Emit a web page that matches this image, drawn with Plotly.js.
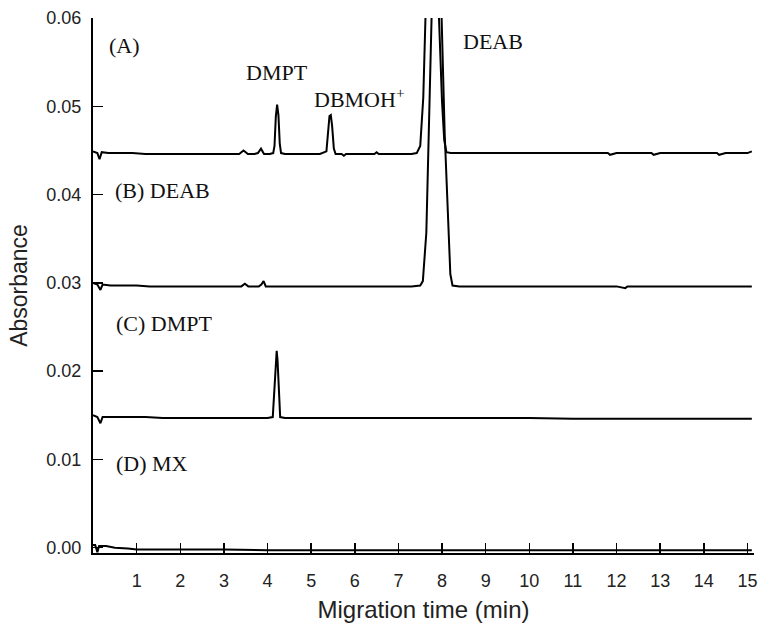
<!DOCTYPE html>
<html>
<head>
<meta charset="utf-8">
<script src="https://cdn.plot.ly/plotly-3.0.1.min.js"></script>
<style>html,body{margin:0;padding:0;background:#fff;}#chart{width:764px;height:625px;}</style>
</head>
<body>
<div id="chart"></div>
<script>
// Trace (A): mixture sample
const timeA = [0.00,0.05,0.10,0.15,0.20,0.35,0.60,0.90,1.20,1.50,1.80,2.00,2.30,2.60,2.90,3.20,3.35,3.45,3.55,3.70,3.78,3.85,3.92,4.05,4.13,4.16,4.19,4.22,4.25,4.28,4.31,4.40,4.60,4.90,5.20,5.35,5.39,5.42,5.45,5.48,5.52,5.56,5.70,5.75,5.80,6.00,6.20,6.45,6.50,6.55,6.80,7.10,7.30,7.42,7.50,7.57,7.62,7.78,7.93,8.00,8.05,8.10,8.20,8.50,9.00,9.50,10.00,10.50,11.00,11.50,11.80,11.85,12.00,12.30,12.50,12.80,12.85,13.00,13.30,13.50,13.80,14.00,14.30,14.35,14.50,14.80,15.00,15.10];
const absA  = [0.0449,0.0448,0.0447,0.0440,0.0448,0.0447,0.0447,0.0447,0.0446,0.0446,0.0446,0.0446,0.0446,0.0446,0.0446,0.0446,0.0446,0.0450,0.0446,0.0446,0.0447,0.0452,0.0446,0.0446,0.0447,0.0455,0.0488,0.0502,0.0490,0.0458,0.0447,0.0446,0.0446,0.0446,0.0446,0.0449,0.0478,0.0489,0.0490,0.0478,0.0452,0.0446,0.0446,0.0444,0.0446,0.0446,0.0446,0.0446,0.0448,0.0446,0.0446,0.0446,0.0446,0.0447,0.0455,0.0510,0.0600,0.2000,0.0600,0.0505,0.0462,0.0448,0.0447,0.0447,0.0447,0.0447,0.0447,0.0447,0.0447,0.0447,0.0447,0.0445,0.0447,0.0447,0.0447,0.0447,0.0445,0.0447,0.0447,0.0447,0.0447,0.0447,0.0447,0.0445,0.0447,0.0447,0.0447,0.0449];

// Trace (B): DEAB
const timeB = [0.00,0.05,0.10,0.17,0.22,0.40,0.70,1.00,1.30,1.60,2.00,2.40,2.80,3.20,3.40,3.48,3.56,3.80,3.86,3.91,3.96,4.30,4.60,5.00,5.50,5.80,6.20,6.60,7.00,7.30,7.50,7.56,7.64,7.70,7.76,7.88,7.99,8.06,8.14,8.19,8.24,8.40,9.00,9.50,10.00,10.50,11.00,11.50,12.00,12.20,12.25,12.50,13.00,14.00,15.10];
const absB  = [0.0300,0.0299,0.0298,0.0292,0.0298,0.0297,0.0297,0.0297,0.0296,0.0296,0.0296,0.0296,0.0296,0.0296,0.0296,0.0299,0.0296,0.0296,0.0298,0.0302,0.0296,0.0296,0.0296,0.0296,0.0296,0.0296,0.0296,0.0296,0.0296,0.0296,0.0297,0.0302,0.0357,0.0470,0.0600,0.2000,0.0600,0.0470,0.0357,0.0310,0.0297,0.0296,0.0296,0.0296,0.0296,0.0296,0.0296,0.0296,0.0296,0.0294,0.0296,0.0296,0.0296,0.0296,0.0296];

// Trace (C): DMPT
const timeC = [0.00,0.05,0.10,0.17,0.22,0.40,0.80,1.20,1.60,2.00,2.40,2.80,3.20,3.60,4.00,4.12,4.16,4.19,4.21,4.23,4.26,4.29,4.40,5.00,5.50,6.00,7.00,8.00,9.00,10.00,11.00,12.00,13.00,14.00,15.10];
const absC  = [0.0150,0.0149,0.0148,0.0141,0.0148,0.0148,0.0148,0.0148,0.0147,0.0147,0.0147,0.0147,0.0147,0.0147,0.0147,0.0148,0.0180,0.0215,0.0223,0.0212,0.0170,0.0148,0.0147,0.0147,0.0147,0.0147,0.0147,0.0147,0.0147,0.0147,0.0146,0.0146,0.0146,0.0146,0.0146];

// Trace (D): MX
const timeD = [0.00,0.05,0.10,0.14,0.30,0.50,0.80,1.00,1.50,2.00,3.00,4.00,5.00,6.00,7.00,8.00,9.00,10.00,11.00,12.00,13.00,14.00,15.10];
const absD  = [0.0003,0.0003,-0.0005,0.0002,0.0002,0.0000,-0.0001,-0.0002,-0.0002,-0.0002,-0.0002,-0.0003,-0.0003,-0.0003,-0.0003,-0.0003,-0.0003,-0.0003,-0.0003,-0.0003,-0.0003,-0.0003,-0.0003];

const xTicks = [1,2,3,4,5,6,7,8,9,10,11,12,13,14,15];
const yTicks = [0.00,0.01,0.02,0.03,0.04,0.05,0.06];

// Labels
const labelText = ['(A)','DMPT','DBMOH<sup>+</sup>','DEAB','(B) DEAB','(C) DMPT','(D) MX'];
const labelX    = [0.32,4.21,5.02,8.43,0.45,0.48,0.48];
const labelY    = [0.0569,0.0538,0.0509,0.0573,0.0405,0.0254,0.0095];
const labelAnchor = ['left','center','left','left','left','left','left'];

const lineStyle = {color:'#000', width:2};
const traces = [
  {x:timeA, y:absA},
  {x:timeB, y:absB},
  {x:timeC, y:absC},
  {x:timeD, y:absD}
].map(t => Object.assign(t, {type:'scatter', mode:'lines', line:lineStyle, showlegend:false, hoverinfo:'skip'}));

const annotations = labelText.map((t,i) => ({
  x: labelX[i], y: labelY[i], xref:'x', yref:'y', text: t, showarrow:false,
  xanchor: labelAnchor[i], yanchor:'middle',
  font:{family:'Liberation Serif, Times New Roman, serif', size:22, color:'#111'}
}));

const layout = {
  width:764, height:625,
  margin:{l:93, r:10, t:18, b:72},
  paper_bgcolor:'#fff', plot_bgcolor:'#fff',
  showlegend:false,
  xaxis:{
    range:[0,15.15], tickvals:xTicks, ticktext:xTicks.map(String),
    ticks:'inside', ticklen:10, tickwidth:1.5, tickcolor:'#000',
    showline:true, linecolor:'#000', linewidth:2, showgrid:false, zeroline:false,
    ticklabelstandoff:10,
    tickfont:{family:'Liberation Sans, Arial, sans-serif', size:18, color:'#222'},
    title:{text:'Migration time (min)', standoff:12, font:{family:'Liberation Sans, Arial, sans-serif', size:24, color:'#222'}}
  },
  yaxis:{
    range:[-0.0006,0.06], tickvals:yTicks, ticktext:yTicks.map(v=>v.toFixed(2)),
    ticks:'inside', ticklen:10, tickwidth:1.5, tickcolor:'#000',
    showline:true, linecolor:'#000', linewidth:2, showgrid:false, zeroline:false,
    ticklabelstandoff:6,
    tickfont:{family:'Liberation Sans, Arial, sans-serif', size:18, color:'#222'},
    title:{text:'Absorbance', standoff:12, font:{family:'Liberation Sans, Arial, sans-serif', size:23, color:'#222'}}
  },
  annotations: annotations
};

Plotly.newPlot('chart', traces, layout, {displayModeBar:false, staticPlot:true});
</script>
</body>
</html>
